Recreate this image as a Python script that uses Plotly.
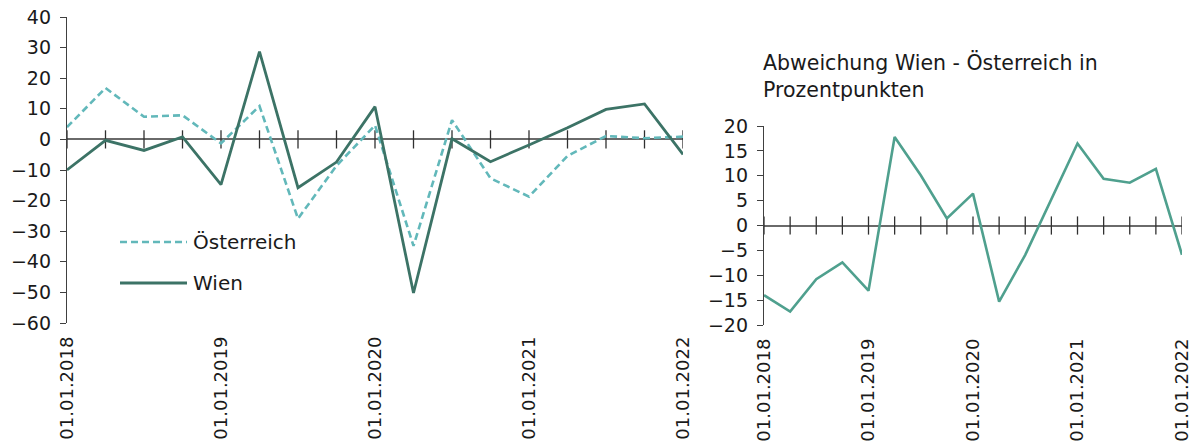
import plotly.graph_objects as go

# Quarterly dates (categories) and yearly tick labels
quarters = [
    "01.01.2018", "01.04.2018", "01.07.2018", "01.10.2018",
    "01.01.2019", "01.04.2019", "01.07.2019", "01.10.2019",
    "01.01.2020", "01.04.2020", "01.07.2020", "01.10.2020",
    "01.01.2021", "01.04.2021", "01.07.2021", "01.10.2021",
    "01.01.2022",
]
year_ticks = ["01.01.2018", "01.01.2019", "01.01.2020", "01.01.2021", "01.01.2022"]

# Veränderung in %
oesterreich = [4.0, 16.8, 7.4, 7.9, -1.3, 10.9, -25.9, -8.6, 4.6,
               -34.8, 6.3, -12.7, -18.7, -5.4, 1.1, 0.4, 0.9]
wien = [-10.0, -0.3, -3.6, 0.8, -14.8, 28.7, -15.8, -7.4, 10.7,
        -50.2, 0.2, -7.3, -1.8, 3.8, 9.8, 11.6, -4.9]

# Abweichung Wien - Österreich in Prozentpunkten
abweichung = [-14.0, -17.3, -10.8, -7.4, -13.1, 17.8, 10.1, 1.4, 6.4,
              -15.3, -5.9, 5.3, 16.5, 9.4, 8.6, 11.4, -5.9]

FONT = "DejaVu Sans"
TXT = "#1a1a1a"
AX = "#404040"
C_OE = "#62B8BA"
C_WIEN = "#3C7366"
C_DIFF = "#4FA08E"

W, H = 1197, 448
def px_x(p):
    return p / W
def px_y(p):
    return 1 - p / H

fig = go.Figure()

# zero-line tick marks at every quarter
for xa, ya in [("x", "y"), ("x2", "y2")]:
    fig.add_trace(go.Scatter(
        x=quarters, y=[0] * len(quarters), mode="markers", xaxis=xa, yaxis=ya,
        marker=dict(symbol="line-ns", size=13, line=dict(width=1.3, color="#303030")),
        showlegend=False, hoverinfo="skip"))

fig.add_trace(go.Scatter(
    x=quarters, y=oesterreich, mode="lines", name="Österreich",
    line=dict(color=C_OE, width=2.6, dash="7px,4px"), xaxis="x", yaxis="y",
    showlegend=False))
fig.add_trace(go.Scatter(
    x=quarters, y=wien, mode="lines", name="Wien",
    line=dict(color=C_WIEN, width=2.8), xaxis="x", yaxis="y",
    showlegend=False))
fig.add_trace(go.Scatter(
    x=quarters, y=abweichung, mode="lines", name="Abweichung",
    line=dict(color=C_DIFF, width=2.6), xaxis="x2", yaxis="y2",
    showlegend=False))

xcommon = dict(
    type="category", range=[0, 16], tickmode="array", tickvals=year_ticks,
    ticktext=year_ticks, tickangle=-90, showgrid=False, zeroline=False,
    showline=False, ticks="", automargin=False, ticklabelstandoff=9,
    tickfont=dict(family=FONT, size=18, color=TXT),
)
ycommon = dict(
    showgrid=False, showline=True, linecolor=AX, linewidth=1.3,
    ticks="outside", ticklen=6, tickcolor=AX, tickwidth=1.3,
    zeroline=True, zerolinecolor="#6a6a6a", zerolinewidth=1.5,
    automargin=False, ticklabelstandoff=5,
    tickfont=dict(family=FONT, size=19, color=TXT),
)

fig.update_layout(
    width=W, height=H,
    margin=dict(l=0, r=0, t=0, b=0, autoexpand=False),
    paper_bgcolor="white", plot_bgcolor="white",
    xaxis=dict(domain=[px_x(67), px_x(683)], anchor="y", **xcommon),
    yaxis=dict(domain=[px_y(323), px_y(17)], anchor="x", range=[-60, 40],
               dtick=10, **ycommon),
    xaxis2=dict(domain=[px_x(764), px_x(1182)], anchor="y2", **xcommon),
    yaxis2=dict(domain=[px_y(325), px_y(126)], anchor="x2", range=[-20, 20],
                dtick=5, **ycommon),
)

# Legend inside the left panel
for yy, color, dash, label in [(242, C_OE, "dash", "Österreich"),
                               (283, C_WIEN, "solid", "Wien")]:
    fig.add_shape(type="line", xref="paper", yref="paper",
                  x0=px_x(120), x1=px_x(187), y0=px_y(yy), y1=px_y(yy),
                  line=dict(color=color, width=2.8 if dash == "solid" else 2.6,
                            dash="7px,4px" if dash == "dash" else "solid"))
    fig.add_annotation(text=label, xref="paper", yref="paper",
                       x=px_x(191), y=px_y(yy), xanchor="left", yanchor="middle",
                       showarrow=False, font=dict(family=FONT, size=20, color=TXT))

# Title of the right panel
fig.add_annotation(text="Abweichung Wien - Österreich in<br>Prozentpunkten",
                   xref="paper", yref="paper", x=px_x(761), y=px_y(48),
                   xanchor="left", yanchor="top", align="left", showarrow=False,
                   font=dict(family=FONT, size=20.5, color=TXT))

fig.write_html("out.html")
